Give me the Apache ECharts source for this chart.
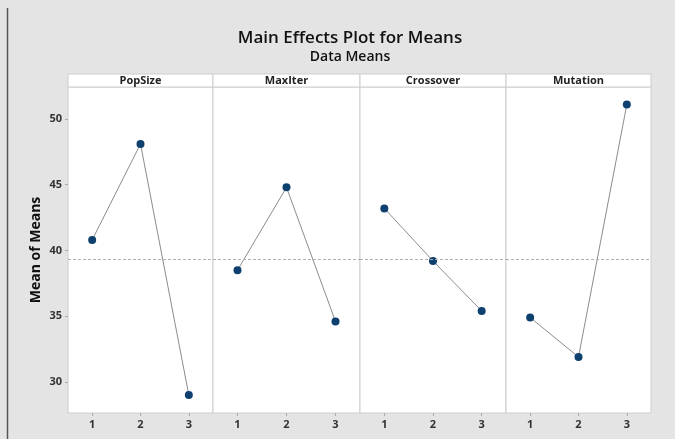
<!DOCTYPE html>
<html>
<head>
<meta charset="utf-8">
<script src="https://cdn.jsdelivr.net/npm/echarts@6/dist/echarts.min.js"></script>
<style>
  html, body { margin: 0; padding: 0; background: #e4e4e4; }
  #chart { width: 675px; height: 439px; }
</style>
</head>
<body>
<div id="chart"></div>
<script>
const levels = ['1', '2', '3'];
const factors = ['PopSize', 'MaxIter', 'Crossover', 'Mutation'];
const popSize = [40.8, 48.1, 29.0];
const maxIter = [38.5, 44.8, 34.6];
const crossover = [43.2, 39.2, 35.4];
const mutation = [34.9, 31.9, 51.1];
const yTicks = [30, 35, 40, 45, 50];
const grandMean = 39.3;

const seriesValues = [popSize, maxIter, crossover, mutation];

const chartBlock = document.getElementById('chart');
const chart = echarts.init(chartBlock);

const font = '"Open Sans", "Noto Sans", sans-serif';
const panelLeft = [68, 213, 360, 506];
const panelWidth = [145, 147, 146, 145];
const plotTop = 87;
const plotHeight = 326;
const stripHeight = 13;

const grids = [];
const xAxes = [];
const yAxes = [];
const series = [];
const graphics = [];

factors.forEach((name, i) => {
  grids.push({
    left: panelLeft[i],
    top: plotTop,
    width: panelWidth[i],
    height: plotHeight,
    show: true,
    backgroundColor: '#fff',
    borderColor: '#cdcdcd',
    borderWidth: 1,
  });
  xAxes.push({
    type: 'category',
    gridIndex: i,
    data: levels,
    boundaryGap: true,
    axisLine: { show: false },
    axisTick: { show: true, alignWithLabel: true, length: 3, lineStyle: { color: '#aaa' } },
    axisLabel: { color: '#333', fontSize: 11, fontWeight: 'bold', fontFamily: font, margin: 6 },
  });
  yAxes.push({
    type: 'value',
    gridIndex: i,
    min: 27.64,
    max: 52.43,
    splitLine: { show: false },
    axisLine: { show: false },
    axisTick: { show: i === 0, length: 3, customValues: yTicks, lineStyle: { color: '#aaa' } },
    axisLabel: {
      show: i === 0,
      customValues: yTicks,
      color: '#333',
      fontSize: 11,
      fontWeight: 'bold',
      fontFamily: font,
      margin: 6,
    },
    name: i === 0 ? 'Mean of Means' : '',
    nameLocation: 'middle',
    nameGap: 25,
    nameTextStyle: { color: '#111', fontSize: 14, fontWeight: 'bold', fontFamily: font },
  });
  series.push({
    type: 'line',
    xAxisIndex: i,
    yAxisIndex: i,
    data: seriesValues[i],
    symbol: 'circle',
    symbolSize: 8,
    itemStyle: { color: '#0d3f6f' },
    lineStyle: { color: '#8c8c8c', width: 1 },
    animation: false,
    markLine: {
      silent: true,
      symbol: 'none',
      label: { show: false },
      lineStyle: { color: '#b0b0b0', type: [3, 2], width: 1 },
      data: [{ yAxis: grandMean }],
    },
  });
  graphics.push({
    type: 'rect',
    shape: { x: panelLeft[i], y: plotTop - stripHeight, width: panelWidth[i], height: stripHeight },
    style: { fill: '#fff', stroke: '#cdcdcd', lineWidth: 1 },
  });
  graphics.push({
    type: 'text',
    x: panelLeft[i] + panelWidth[i] / 2,
    y: plotTop - stripHeight / 2,
    style: {
      text: name,
      fill: '#222',
      font: 'bold 11px ' + font,
      align: 'center',
      verticalAlign: 'middle',
    },
  });
});

graphics.push({
  type: 'line',
  shape: { x1: 7.5, y1: 8, x2: 7.5, y2: 439 },
  style: { stroke: '#555', lineWidth: 1.5 },
});

const option = {
  backgroundColor: '#e4e4e4',
  title: [
    {
      text: 'Main Effects Plot for Means',
      left: 345,
      top: 25,
      textAlign: 'center',
      textStyle: { fontSize: 17, fontWeight: 600, color: '#111', fontFamily: font },
    },
    {
      text: 'Data Means',
      left: 345,
      top: 45,
      textAlign: 'center',
      textStyle: { fontSize: 14, fontWeight: 600, color: '#111', fontFamily: font },
    },
  ],
  grid: grids,
  xAxis: xAxes,
  yAxis: yAxes,
  series: series,
  graphic: graphics,
};

chart.setOption(option);
window.addEventListener('resize', () => chart.resize());
</script>
</body>
</html>
